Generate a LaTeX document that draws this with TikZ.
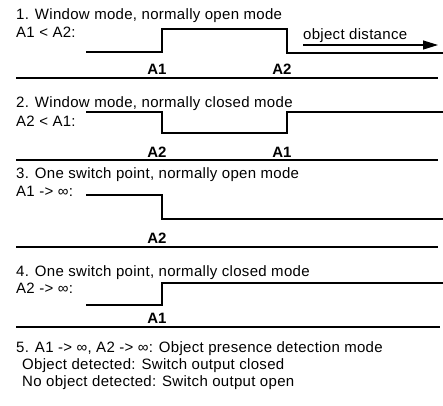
\documentclass[tikz,border=0pt]{standalone}
\usepackage{fontspec}
\setmainfont{Liberation Sans}
\newfontfamily\spacedfont{Liberation Sans}[LetterSpace=2]
\usetikzlibrary{arrows.meta,positioning}
\begin{document}
\begin{tikzpicture}[x=1pt, y=-1pt,
   title/.style={anchor=base west, inner sep=0pt, font=\spacedfont\fontsize{15}{17}\selectfont},
   point/.style={anchor=base, inner sep=0pt, font=\fontsize{15}{17}\selectfont\bfseries},
   signal/.style={line width=2.6pt},
   rule/.style={line width=1.3pt}]
  \useasboundingbox (0,0) rectangle (443,405);
  % 1. window mode, normally open
  \node[title] (t1) at (16,19)  {1. Window mode, normally open mode};
  \node[title] (c1) at (16,37)  {A1 < A2:};
  \draw[signal] (86,52) -- (162,52) -- (162,29) -- (287,29) -- (287,53) -- (443,53);
  \coordinate (d0) at (303,45);
  \coordinate (d1) at (438,45);
  \draw[line width=1.2pt, -{Triangle[length=15pt,width=9pt]}] (d0) -- (d1);
  \node[title] (od) at (303,39) {object distance};
  \node[point] (a1) at (157,74) {A1};
  \node[point] (a2) at (282,74) {A2};
  \draw[rule] (16,78) -- (438,78);
  % 2. window mode, normally closed
  \node[title] (t2) at (16,107) {2. Window mode, normally closed mode};
  \node[title] (c2) at (16,126) {A2 < A1:};
  \draw[signal] (86,112) -- (162,112) -- (162,133) -- (287,133) -- (287,112) -- (443,112);
  \node[point] (b2) at (157,157) {A2};
  \node[point] (b1) at (282,157) {A1};
  \draw[rule] (16,160) -- (438,160);
  % 3. one switch point, normally open
  \node[title] (t3) at (16,178) {3. One switch point, normally open mode};
  \node[title] (c3) at (16,196) {A1 -> ∞:};
  \draw[signal] (86,195) -- (162,195) -- (162,219) -- (443,219);
  \node[point] (e2) at (157,243) {A2};
  \draw[rule] (16,247) -- (438,247);
  % 4. one switch point, normally closed
  \node[title] (t4) at (16,276) {4. One switch point, normally closed mode};
  \node[title] (c4) at (16,293) {A2 -> ∞:};
  \draw[signal] (86,305) -- (162,305) -- (162,283) -- (443,283);
  \node[point] (f1) at (157,323) {A1};
  \draw[rule] (16,327) -- (440,327);
  % 5. object presence detection
  \node[title] (t5) at (16,352) {5. A1 -> ∞, A2 -> ∞: Object presence detection mode};
  \node[title] (c5) at (22,369) {Object detected: Switch output closed};
  \node[title] (c6) at (22,386) {No object detected: Switch output open};
\end{tikzpicture}
\end{document}
